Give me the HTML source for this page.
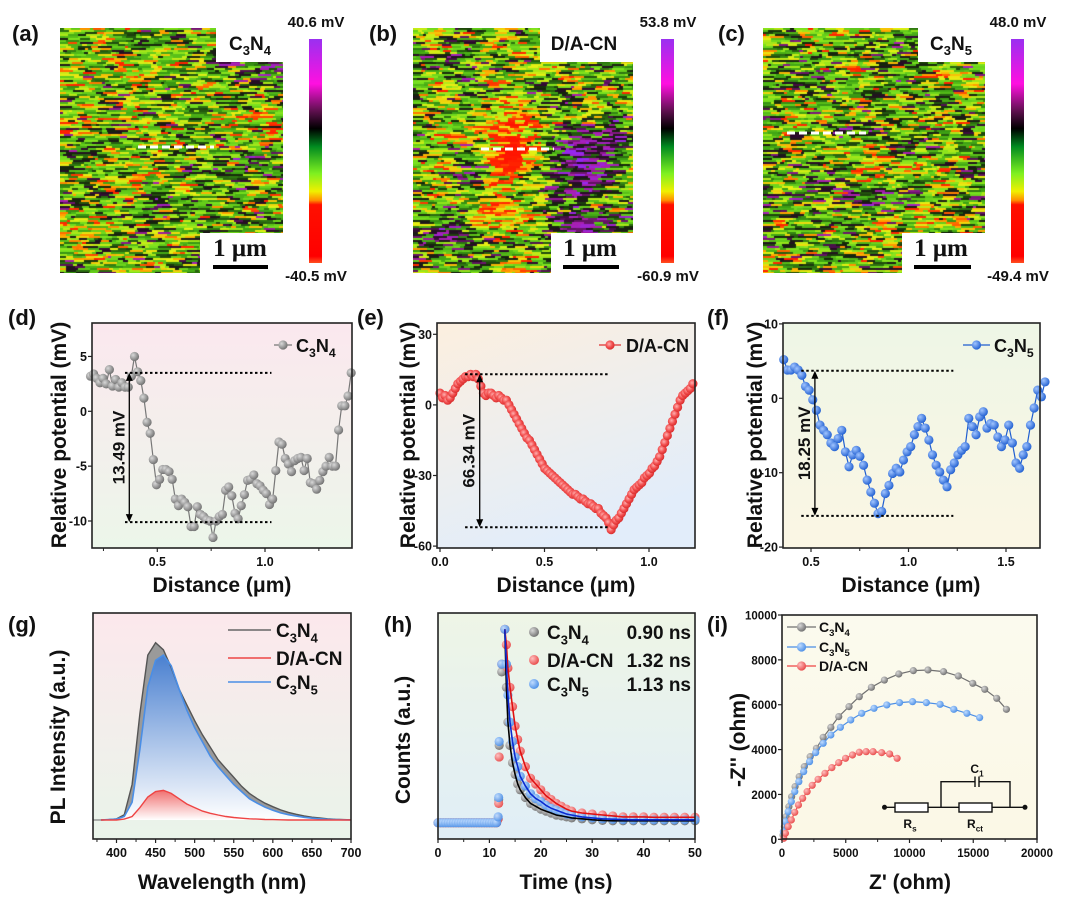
<!DOCTYPE html>
<html><head><meta charset="utf-8">
<style>
html,body{margin:0;padding:0;background:#fff;}
#wrap{position:relative;width:1072px;height:900px;overflow:hidden;font-family:"Liberation Sans",Arial,sans-serif;}
canvas{position:absolute;}
svg{position:absolute;left:0;top:0;}
text{font-family:"Liberation Sans",Arial,sans-serif;font-weight:bold;fill:#111;}
</style></head>
<body>
<div id="wrap">
<canvas id="mapA" width="223" height="245" style="left:60px;top:28px"></canvas>
<canvas id="mapB" width="220" height="245" style="left:413px;top:28px"></canvas>
<canvas id="mapC" width="222" height="245" style="left:763px;top:28px"></canvas>
<svg id="svg" width="1072" height="900" viewBox="0 0 1072 900">
<defs>
<linearGradient id="cbar" x1="0" y1="0" x2="0" y2="1">
<stop offset="0" stop-color="#9a30f0"/><stop offset="0.2" stop-color="#ff10e0"/><stop offset="0.32" stop-color="#601050"/><stop offset="0.4" stop-color="#000"/><stop offset="0.48" stop-color="#008a20"/><stop offset="0.6" stop-color="#7ef020"/><stop offset="0.68" stop-color="#f0f000"/><stop offset="0.72" stop-color="#ff9000"/><stop offset="0.74" stop-color="#ff1000"/><stop offset="0.97" stop-color="#ff0000"/><stop offset="1" stop-color="#ff5020"/>
</linearGradient>
<linearGradient id="bgD" x1="0" y1="0" x2="0" y2="1"><stop offset="0" stop-color="#fbe8ee"/><stop offset="1" stop-color="#ecf6ea"/></linearGradient>
<linearGradient id="bgE" x1="0" y1="0" x2="0.4" y2="1"><stop offset="0" stop-color="#fcefdf"/><stop offset="1" stop-color="#e2edfa"/></linearGradient>
<linearGradient id="bgF" x1="0" y1="0" x2="0" y2="1"><stop offset="0" stop-color="#eef6e6"/><stop offset="1" stop-color="#fbf6e4"/></linearGradient>
<linearGradient id="bgG" x1="0" y1="0" x2="0" y2="1"><stop offset="0" stop-color="#fce8ec"/><stop offset="1" stop-color="#e9f4ea"/></linearGradient>
<linearGradient id="bgH" x1="0" y1="0" x2="0" y2="1"><stop offset="0" stop-color="#eef5e6"/><stop offset="1" stop-color="#e0eef7"/></linearGradient>
<linearGradient id="bgI" x1="0" y1="0" x2="0" y2="1"><stop offset="0" stop-color="#fbfaee"/><stop offset="1" stop-color="#fbf8e6"/></linearGradient>
<linearGradient id="fillBlue" x1="0" y1="0" x2="0" y2="1"><stop offset="0" stop-color="#4a80d0"/><stop offset="1" stop-color="#ffffff"/></linearGradient>
<linearGradient id="fillRed" x1="0" y1="0" x2="0" y2="1"><stop offset="0" stop-color="#f07070"/><stop offset="1" stop-color="#ffffff"/></linearGradient>
<radialGradient id="ballGray" cx="0.35" cy="0.35" r="0.7"><stop offset="0" stop-color="#d8d8d8"/><stop offset="1" stop-color="#6e6e6e"/></radialGradient>
<radialGradient id="ballRed" cx="0.4" cy="0.4" r="0.7"><stop offset="0" stop-color="#ffb0b0"/><stop offset="0.5" stop-color="#f25050"/><stop offset="1" stop-color="#d02020"/></radialGradient>
<radialGradient id="ballBlue" cx="0.35" cy="0.35" r="0.7"><stop offset="0" stop-color="#a0c4ff"/><stop offset="1" stop-color="#1f5ed0"/></radialGradient>
<radialGradient id="ballLBlue" cx="0.35" cy="0.35" r="0.7"><stop offset="0" stop-color="#c0dcff"/><stop offset="1" stop-color="#4a8ee6"/></radialGradient>
<radialGradient id="ballLRed" cx="0.35" cy="0.35" r="0.7"><stop offset="0" stop-color="#ffc0c0"/><stop offset="1" stop-color="#e84848"/></radialGradient>
</defs>

<g>
<text x="12" y="41" font-size="22">(a)</text>
<rect x="216" y="27" width="68" height="35" fill="#fff"/>
<text x="250" y="50" font-size="19" text-anchor="middle">C<tspan font-size="13" dy="5">3</tspan><tspan dy="-5">N</tspan><tspan font-size="13" dy="5">4</tspan></text>
<rect x="200" y="233" width="84" height="42" fill="#fff"/>
<text x="240" y="256" font-size="25" text-anchor="middle" style="font-family:'Liberation Serif',serif">1 μm</text>
<rect x="213" y="265" width="55" height="4" fill="#000"/>
<line x1="138" y1="147" x2="214" y2="147" stroke="#fff" stroke-width="3" stroke-dasharray="8,4"/>
<rect x="309" y="39" width="13" height="224" fill="url(#cbar)"/>
<text x="316" y="27" font-size="15" text-anchor="middle">40.6 mV</text>
<text x="316" y="281" font-size="15" text-anchor="middle">-40.5 mV</text>
</g>
<g>
<text x="369" y="41" font-size="22">(b)</text>
<rect x="540" y="27" width="94" height="35" fill="#fff"/>
<text x="584" y="50" font-size="19" text-anchor="middle">D/A-CN</text>
<rect x="551" y="233" width="83" height="42" fill="#fff"/>
<text x="590" y="256" font-size="25" text-anchor="middle" style="font-family:'Liberation Serif',serif">1 μm</text>
<rect x="563" y="265" width="56" height="4" fill="#000"/>
<line x1="481" y1="149" x2="554" y2="149" stroke="#fff" stroke-width="3" stroke-dasharray="8,4"/>
<rect x="661" y="39" width="13" height="224" fill="url(#cbar)"/>
<text x="668" y="27" font-size="15" text-anchor="middle">53.8 mV</text>
<text x="668" y="281" font-size="15" text-anchor="middle">-60.9 mV</text>
</g>
<g>
<text x="718" y="41" font-size="22">(c)</text>
<rect x="918" y="27" width="68" height="35" fill="#fff"/>
<text x="951" y="50" font-size="19" text-anchor="middle">C<tspan font-size="13" dy="5">3</tspan><tspan dy="-5">N</tspan><tspan font-size="13" dy="5">5</tspan></text>
<rect x="902" y="233" width="84" height="42" fill="#fff"/>
<text x="941" y="256" font-size="25" text-anchor="middle" style="font-family:'Liberation Serif',serif">1 μm</text>
<rect x="914" y="265" width="57" height="4" fill="#000"/>
<line x1="787" y1="133" x2="866" y2="133" stroke="#fff" stroke-width="3" stroke-dasharray="8,4"/>
<rect x="1011" y="39" width="13" height="224" fill="url(#cbar)"/>
<text x="1018" y="27" font-size="15" text-anchor="middle">48.0 mV</text>
<text x="1018" y="281" font-size="15" text-anchor="middle">-49.4 mV</text>
</g>

<text x="8" y="325" font-size="22">(d)</text>
<text x="357" y="325" font-size="22">(e)</text>
<text x="707" y="325" font-size="22">(f)</text>
<text x="8" y="632" font-size="22">(g)</text>
<text x="384" y="632" font-size="22">(h)</text>
<text x="707" y="632" font-size="22">(i)</text>

<text transform="translate(66,435) rotate(-90)" font-size="21" text-anchor="middle">Relative potential (mV)</text>
<text transform="translate(415,435) rotate(-90)" font-size="21" text-anchor="middle">Relative potential (mV)</text>
<text transform="translate(762,435) rotate(-90)" font-size="21" text-anchor="middle">Relative potential (mV)</text>
<text x="222" y="592" font-size="21" text-anchor="middle">Distance (μm)</text>
<text x="566" y="592" font-size="21" text-anchor="middle">Distance (μm)</text>
<text x="911" y="592" font-size="21" text-anchor="middle">Distance (μm)</text>
<text transform="translate(65,737) rotate(-90)" font-size="21" text-anchor="middle">PL Intensity (a.u.)</text>
<text transform="translate(410,740) rotate(-90)" font-size="21" text-anchor="middle">Counts (a.u.)</text>
<text transform="translate(745,740) rotate(-90)" font-size="21" text-anchor="middle">-Z'' (ohm)</text>
<text x="222" y="889" font-size="21" text-anchor="middle">Wavelength (nm)</text>
<text x="566" y="889" font-size="21" text-anchor="middle">Time (ns)</text>
<text x="910" y="889" font-size="21" text-anchor="middle">Z' (ohm)</text>
</svg>
</div>
<script>
// ---------- data: panel d (C3N4 potential profile) ----------
const dRange = [0.19, 1.40];
const dValues = [3.2,3.4,3.0,2.6,3.0,2.5,3.8,2.3,2.9,2.2,2.6,2.2,2.2,3.2,5.0,3.6,2.8,1.2,-1.0,-2.0,-4.4,-6.7,-6.2,-5.3,-5.3,-5.5,-6.2,-8.0,-8.6,-8.0,-8.3,-8.7,-10.5,-10.5,-8.7,-9.4,-9.6,-9.9,-10.0,-11.5,-10.0,-9.6,-9.4,-7.2,-6.9,-7.7,-9.3,-9.8,-8.6,-7.6,-6.3,-6.2,-5.8,-6.6,-6.8,-7.2,-7.5,-8.5,-8.0,-5.4,-2.8,-3.0,-4.3,-4.8,-5.5,-4.5,-4.3,-4.2,-5.4,-4.3,-6.5,-6.6,-7.1,-6.3,-5.5,-5.0,-4.2,-5.0,-5.0,-1.7,0.5,0.5,1.4,3.5];
const dTicksX = [0.5, 1.0];
const dTicksY = [5, 0, -5, -10];
const dRef = [3.5, -10.1];
// ---------- panel e (D/A-CN) ----------
const eRange = [0.0, 1.21];
const eValues = [5,3,4,2,3,5,7,9,10,11,12,12,13,12,13,11,8,5,4,5,5,4,3,4,3,2,2,0,-2,-4,-6,-8,-10,-12,-14,-15,-17,-19,-21,-23,-25,-27,-28,-29,-30,-31,-32,-33,-34,-35,-36,-37,-38,-38,-39,-40,-40,-41,-42,-42,-43,-44,-44,-46,-47,-48,-50,-53,-51,-49,-48,-46,-44,-42,-40,-38,-36,-35,-34,-33,-31,-30,-29,-27,-26,-24,-22,-19,-16,-13,-10,-7,-4,-1,2,4,5,6,7,9];
const eTicksX = [0.0, 0.5, 1.0];
const eTicksY = [30, 0, -30, -60];
const eRef = [13, -52];
// ---------- panel f (C3N5) ----------
const fRange = [0.36, 1.70];
const fValues = [5.2,3.8,3.8,4.2,3.8,3.1,1.6,1.1,-0.2,-1.6,-3.6,-4.3,-4.9,-6.0,-6.5,-5.4,-4.3,-7.2,-9.2,-7.6,-7.0,-7.8,-9.0,-11.0,-12.6,-14.1,-15.5,-15.2,-12.8,-11.7,-10.1,-9.4,-9.9,-8.3,-7.2,-6.5,-4.9,-3.8,-2.7,-4.0,-5.6,-7.6,-9.0,-9.9,-11.0,-11.9,-9.6,-8.7,-7.6,-7.0,-6.5,-2.7,-3.8,-4.9,-2.5,-1.8,-4.0,-3.4,-3.6,-5.2,-6.5,-5.6,-3.6,-6.0,-8.7,-9.4,-7.6,-6.5,-3.6,-1.3,1.1,0.2,2.2];
const fTicksX = [0.5, 1.0, 1.5];
const fTicksY = [10, 0, -10, -20];
const fRef = [3.7, -15.8];
// ---------- panel g (PL spectra) ----------
const wavelengths = [380,390,400,410,420,430,440,450,460,470,480,490,500,510,520,530,540,550,560,570,580,590,600,610,620,630,640,650,660,670,680,690,700];
const plC3N4 = [0,0.002,0.006,0.03,0.2,0.6,0.93,1.0,0.96,0.86,0.74,0.65,0.56,0.48,0.41,0.34,0.29,0.24,0.19,0.15,0.12,0.095,0.075,0.057,0.043,0.032,0.023,0.016,0.011,0.007,0.004,0.002,0.001];
const plC3N5 = [0,0.002,0.005,0.02,0.1,0.4,0.75,0.9,0.93,0.87,0.74,0.62,0.52,0.44,0.36,0.30,0.25,0.20,0.16,0.12,0.095,0.072,0.055,0.04,0.03,0.022,0.015,0.01,0.007,0.004,0.002,0.001,0];
const plDACN = [0,0,0,0.005,0.02,0.07,0.13,0.16,0.167,0.15,0.12,0.09,0.07,0.05,0.038,0.028,0.02,0.014,0.01,0.007,0.005,0.003,0.002,0.001,0,0,0,0,0,0,0,0,0];
const gTicksX = [400,450,500,550,600,650,700];
// ---------- panel h (TRPL) ----------
const times = [0,0.5,1,1.5,2,2.5,3,3.5,4,4.5,5,5.5,6,6.5,7,7.5,8,8.5,9,9.5,10,10.5,11,11.4,11.7,11.8,11.9,12.4,13,13.3,13.6,14,14.5,15,15.5,16,17,18,19,20,21,22,23,24,25,26,28,30,32,34,36,38,40,42,44,46,48,50];
const trC3N4 = [0,0,0,0,0,0,0,0,0,0,0,0,0,0,0,0,0,0,0,0,0,0,0,0,0.02,0.12,0.4,0.78,1.0,0.7,0.52,0.4,0.31,0.25,0.2,0.17,0.13,0.1,0.085,0.07,0.06,0.05,0.04,0.035,0.03,0.025,0.02,0.015,0.012,0.01,0.01,0.01,0.01,0.01,0.01,0.01,0.01,0.01];
const trDACN = [0,0,0,0,0,0,0,0,0,0,0,0,0,0,0,0,0,0,0,0,0,0,0,0,0.02,0.1,0.34,0.82,1.0,0.92,0.8,0.7,0.6,0.5,0.43,0.37,0.29,0.23,0.2,0.17,0.14,0.12,0.1,0.085,0.07,0.06,0.05,0.045,0.04,0.035,0.03,0.03,0.03,0.028,0.028,0.028,0.028,0.028];
const trC3N5 = [0,0,0,0,0,0,0,0,0,0,0,0,0,0,0,0,0,0,0,0,0,0,0,0,0.03,0.13,0.42,0.82,1.0,0.82,0.66,0.52,0.42,0.34,0.29,0.24,0.19,0.15,0.125,0.11,0.09,0.075,0.065,0.055,0.045,0.04,0.03,0.025,0.02,0.018,0.016,0.015,0.015,0.015,0.015,0.015,0.015,0.015];
const hTicksX = [0,10,20,30,40,50];
const lifetimes = ["0.90 ns","1.32 ns","1.13 ns"];
// ---------- panel i (Nyquist) ----------
const zReC3N4 = [80,190,320,540,755,1025,1350,1750,2210,2700,3230,3830,4450,5255,6060,7010,8030,9160,10300,11450,12670,13830,14960,15900,16840,17600];
const zImC3N4 = [190,565,1010,1456,1900,2350,2795,3240,3685,4057,4547,4990,5470,5915,6360,6776,7100,7370,7520,7550,7475,7282,6955,6687,6286,5795];
const zReC3N5 = [110,270,485,730,1000,1320,1700,2160,2640,3230,3830,4580,5390,6250,7220,8220,9220,10240,11320,12400,13475,14500,15500];
const zImC3N5 = [340,788,1233,1680,2125,2570,3017,3462,3864,4280,4650,4993,5320,5617,5840,5990,6093,6137,6093,6018,5795,5617,5424];
const zReDACN = [135,270,485,730,1000,1290,1620,1970,2370,2830,3370,3910,4450,4985,5525,6060,6600,7140,7815,8440,9030];
const zImDACN = [45,267,565,862,1204,1530,1828,2125,2407,2675,2942,3195,3418,3611,3760,3880,3908,3908,3864,3804,3611];
const iTicksX = [0,5000,10000,15000,20000];
const iTicksY = [0,2000,4000,6000,8000,10000];

// ---------- helpers ----------
const NS = "http://www.w3.org/2000/svg";
const svg = document.getElementById("svg");
function mk(tag, attrs, parent) {
  const el = document.createElementNS(NS, tag);
  for (const k in attrs) el.setAttribute(k, attrs[k]);
  (parent || svg).appendChild(el);
  return el;
}
function lin(d0, d1, r0, r1) { return v => r0 + (v - d0) * (r1 - r0) / (d1 - d0); }
function linspace(a, b, n) { const o = []; for (let i = 0; i < n; i++) o.push(a + (b - a) * i / (n - 1)); return o; }
function fmt(v, dec) { return v.toFixed(dec); }

function frame(name, box, bg) {
  const g = mk("g", {});
  
  
  const r = mk("rect", {x: box.x0, y: box.y0, width: box.x1 - box.x0, height: box.y1 - box.y0, fill: bg}, g);
  
  
  return g;
}
function border(g, box) {
  const r = mk("rect", {x: box.x0, y: box.y0, width: box.x1 - box.x0, height: box.y1 - box.y0, fill: "none", stroke: "#222", "stroke-width": 1.6}, g);
  
  
}
function xTicks(g, box, sx, ticks, dec, fs) {
  const minor = [];
  for (let i = 0; i < ticks.length - 1; i++) minor.push((ticks[i] + ticks[i + 1]) / 2);
  const step = ticks.length > 1 ? ticks[1] - ticks[0] : 1;
  minor.push(ticks[0] - step / 2, ticks[ticks.length - 1] + step / 2);
  ticks.forEach(t => {
    const x = sx(t);
    const l = mk("line", {x1: x, x2: x, y1: box.y1, y2: box.y1 + 4, stroke: "#222", "stroke-width": 1.2}, g);
    
    
    const tx = mk("text", {x: x, y: box.y1 + 18, "font-size": fs || 12.5, "text-anchor": "middle"}, g);
    
    
    tx.textContent = fmt(t, dec);
  });
  minor.forEach(t => {
    const x = sx(t);
    if (x < box.x0 || x > box.x1) return;
    const l = mk("line", {x1: x, x2: x, y1: box.y1, y2: box.y1 + 3, stroke: "#222", "stroke-width": 1}, g);
    
    
  });
}
function yTicks(g, box, sy, ticks, dec, fs) {
  ticks.forEach(t => {
    const y = sy(t);
    const l = mk("line", {x1: box.x0, x2: box.x0 - 4, y1: y, y2: y, stroke: "#222", "stroke-width": 1.2}, g);
    
    
    const tx = mk("text", {x: box.x0 - 5, y: y + 4.5, "font-size": fs || 12.5, "text-anchor": "end"}, g);
    
    
    tx.textContent = fmt(t, dec);
  });
}
function subLabel(parent, x, y, fs, parts, anchor) {
  const t = mk("text", {x: x, y: y, "font-size": fs, "text-anchor": anchor || "start"}, parent);
  parts.forEach(p => {
    const s = mk("tspan", p[1] ? {"font-size": fs * 0.68, dy: fs * 0.28} : {dy: p[2] ? -fs * 0.28 : 0}, t);
    s.textContent = p[0];
  });
  return t;
}
function profile(name, box, sx, sy, xr, vals, color, ball, ref, arrowX, refX0, refX1, labelTxt, bg) {
  const g = frame(name, box, bg);
  const xs = linspace(xr[0], xr[1], vals.length);
  const pts = vals.map((v, i) => sx(xs[i]).toFixed(1) + "," + sy(v).toFixed(1)).join(" ");
  const pl = mk("polyline", {points: pts, fill: "none", stroke: color, "stroke-width": 1.2}, g);
  
  
  vals.forEach((v, i) => {
    const c = mk("circle", {cx: sx(xs[i]), cy: sy(v), r: 4.6, fill: ball}, g);
    
    
  });
  ref.forEach(rv => {
    const l = mk("line", {x1: sx(refX0), x2: sx(refX1), y1: sy(rv), y2: sy(rv), stroke: "#000", "stroke-width": 2, "stroke-dasharray": "2.5,2.5"}, g);
    
    
  });
  const ax = sx(arrowX), ya = sy(ref[0]), yb = sy(ref[1]);
  const al = mk("line", {x1: ax, x2: ax, y1: ya + 6, y2: yb - 6, stroke: "#000", "stroke-width": 1.3}, g);
  
  
  const h1 = mk("path", {d: `M${ax},${ya} l-3.5,8 h7 z M${ax},${yb} l-3.5,-8 h7 z`, fill: "#000"}, g);
  
  
  const lt = mk("text", {transform: `translate(${ax - 5},${(ya + yb) / 2}) rotate(-90)`, "font-size": 17, "text-anchor": "middle"}, g);
  
  
  lt.textContent = labelTxt;
  return g;
}
function legendMarker(g, x0, x1, y, color, ball) {
  const l = mk("line", {x1: x0, x2: x1, y1: y, y2: y, stroke: color, "stroke-width": 1.3}, g);
  
  
  const c = mk("circle", {cx: (x0 + x1) / 2, cy: y, r: 4.6, fill: ball}, g);
  
  
}

// ---------- panel d ----------
{
  const box = {x0: 92, x1: 352, y0: 323, y1: 548};
  const sx = lin(0.5, 1.0, 157.3, 265), sy = lin(0, -10, 411.3, 521);
  const g = profile("panel-d", box, sx, sy, dRange, dValues, "#777", "url(#ballGray)", dRef, 0.37, 0.35, 1.03, "13.49 mV", "url(#bgD)");
  xTicks(g, box, sx, dTicksX, 1); yTicks(g, box, sy, dTicksY, 0); border(g, box);
  legendMarker(g, 274, 292, 345, "#777", "url(#ballGray)");
  const t = subLabel(g, 296, 352, 18, [["C"], ["3", 1], ["N", 0, 1], ["4", 1]]);
  
  
}
// ---------- panel e ----------
{
  const box = {x0: 437, x1: 695, y0: 323, y1: 548};
  const sx = lin(0, 1, 440, 649), sy = lin(0, -30, 404.9, 475.5);
  const g = profile("panel-e", box, sx, sy, eRange, eValues, "#e03030", "url(#ballRed)", eRef, 0.19, 0.12, 0.81, "66.34 mV", "url(#bgE)");
  xTicks(g, box, sx, eTicksX, 1); yTicks(g, box, sy, eTicksY, 0); border(g, box);
  legendMarker(g, 599, 621, 345, "#e03030", "url(#ballRed)");
  const t = mk("text", {x: 626, y: 352, "font-size": 18}, g);
  
  
  t.textContent = "D/A-CN";
}
// ---------- panel f ----------
{
  const box = {x0: 783, x1: 1040, y0: 323, y1: 548};
  const sx = lin(0.5, 1.5, 811, 1006), sy = lin(0, -10, 398.3, 472.7);
  const g = profile("panel-f", box, sx, sy, fRange, fValues, "#1f5ed0", "url(#ballBlue)", fRef, 0.52, 0.45, 1.23, "18.25 mV", "url(#bgF)");
  xTicks(g, box, sx, fTicksX, 1); yTicks(g, box, sy, fTicksY, 0); border(g, box);
  legendMarker(g, 963, 990, 345, "#1f5ed0", "url(#ballBlue)");
  const t = subLabel(g, 994, 352, 18, [["C"], ["3", 1], ["N", 0, 1], ["5", 1]]);
  
  
}
// ---------- panel g ----------
{
  const box = {x0: 93, x1: 351, y0: 613, y1: 839};
  const sx = lin(400, 700, 116.5, 351), sy = lin(0, 1, 820, 642.7);
  const g = frame("panel-g", box, "url(#bgG)");
  const base = sy(0);
  function path(vals, close) {
    let d = wavelengths.map((w, i) => (i ? "L" : "M") + sx(w).toFixed(1) + "," + sy(vals[i]).toFixed(1)).join(" ");
    if (close) d += ` L${sx(700)},${base} L${sx(380)},${base} Z`;
    return d;
  }
  const a1 = mk("path", {d: path(plC3N4, true), fill: "#9a9a9a"}, g);
  
  
  const a2 = mk("path", {d: path(plC3N5, true), fill: "url(#fillBlue)"}, g);
  
  
  const a3 = mk("path", {d: path(plDACN, true), fill: "url(#fillRed)"}, g);
  
  
  const bl = mk("line", {x1: box.x0, x2: sx(380), y1: base, y2: base, stroke: "#888", "stroke-width": 1.3}, g);
  
  
  const l1 = mk("path", {d: path(plC3N4), fill: "none", stroke: "#555", "stroke-width": 1.4}, g);
  
  
  const l2 = mk("path", {d: path(plC3N5), fill: "none", stroke: "#4a8ee6", "stroke-width": 1.6}, g);
  
  
  const l3 = mk("path", {d: path(plDACN), fill: "none", stroke: "#ee4444", "stroke-width": 1.4}, g);
  
  
  xTicks(g, box, sx, gTicksX, 0); border(g, box);
  const cols = ["#666", "#ee4444", "#4a8ee6"];
  const ys = [630, 658, 682];
  ys.forEach((y, i) => {
    const l = mk("line", {x1: 228, x2: 271, y1: y, y2: y, stroke: cols[i], "stroke-width": 1.6}, g);
    
    
  });
  const t1 = subLabel(g, 276, 637, 19, [["C"], ["3", 1], ["N", 0, 1], ["4", 1]]);
  
  
  const t2 = mk("text", {x: 276, y: 665, "font-size": 19}, g);
  
  
  t2.textContent = "D/A-CN";
  const t3 = subLabel(g, 276, 689, 19, [["C"], ["3", 1], ["N", 0, 1], ["5", 1]]);
  
  
}
// ---------- panel h ----------
{
  const box = {x0: 438, x1: 695, y0: 613, y1: 839};
  const sx = lin(0, 50, 438, 695), sy = lin(0, 1, 822.7, 629.3);
  const g = frame("panel-h", box, "url(#bgH)");
  const series = [[trC3N4, "url(#ballGray)"], [trDACN, "url(#ballLRed)"], [trC3N5, "url(#ballLBlue)"]];
  series.forEach(s => {
    s[0].forEach((v, i) => {
      const c = mk("circle", {cx: sx(times[i]), cy: sy(v), r: 4.6, fill: s[1], opacity: 0.95}, g);
      
      
    });
  });
  const fits = [[trC3N4, "#000"], [trDACN, "#e01010"], [trC3N5, "#0a2ad0"]];
  fits.forEach(f => {
    const pts = [];
    f[0].forEach((v, i) => { if (times[i] >= 13) pts.push(sx(times[i]).toFixed(1) + "," + sy(v).toFixed(1)); });
    const pl = mk("polyline", {points: pts.join(" "), fill: "none", stroke: f[1], "stroke-width": 1.6}, g);
    
    
  });
  xTicks(g, box, sx, hTicksX, 0); border(g, box);
  const balls = ["url(#ballGray)", "url(#ballLRed)", "url(#ballLBlue)"];
  const ys = [632, 660, 684];
  ys.forEach((y, i) => {
    const c = mk("circle", {cx: 534, cy: y, r: 5, fill: balls[i]}, g);
    
    
    const v = mk("text", {x: 691, y: y + 7, "font-size": 19, "text-anchor": "end"}, g);
    
    
    v.textContent = lifetimes[i];
  });
  const t1 = subLabel(g, 547, 639, 19, [["C"], ["3", 1], ["N", 0, 1], ["4", 1]]);
  
  
  const t2 = mk("text", {x: 547, y: 667, "font-size": 19}, g);
  
  
  t2.textContent = "D/A-CN";
  const t3 = subLabel(g, 547, 691, 19, [["C"], ["3", 1], ["N", 0, 1], ["5", 1]]);
  
  
}
// ---------- panel i ----------
{
  const box = {x0: 782, x1: 1037, y0: 615, y1: 839};
  const sx = lin(0, 20000, 782, 1037), sy = lin(0, 10000, 839.3, 615);
  const g = frame("panel-i", box, "url(#bgI)");
  const series = [[zReC3N4, zImC3N4, "#707070", "url(#ballGray)"], [zReC3N5, zImC3N5, "#4a8ee6", "url(#ballLBlue)"], [zReDACN, zImDACN, "#ee4444", "url(#ballLRed)"]];
  series.forEach(s => {
    const pts = s[0].map((x, i) => sx(x).toFixed(1) + "," + sy(s[1][i]).toFixed(1)).join(" ");
    const pl = mk("polyline", {points: pts, fill: "none", stroke: s[2], "stroke-width": 1.2}, g);
    
    
    s[0].forEach((x, i) => {
      const c = mk("circle", {cx: sx(x), cy: sy(s[1][i]), r: 3.6, fill: s[3]}, g);
      
      
    });
  });
  xTicks(g, box, sx, iTicksX, 0, 11.5); yTicks(g, box, sy, iTicksY, 0, 11.5); border(g, box);
  const ly = [627, 647, 666];
  legendMarker(g, 787, 816, ly[0], "#707070", "url(#ballGray)");
  legendMarker(g, 787, 816, ly[1], "#4a8ee6", "url(#ballLBlue)");
  legendMarker(g, 787, 816, ly[2], "#ee4444", "url(#ballLRed)");
  const t1 = subLabel(g, 819, 632, 14, [["C"], ["3", 1], ["N", 0, 1], ["4", 1]]);
  
  
  const t3 = subLabel(g, 819, 652, 14, [["C"], ["3", 1], ["N", 0, 1], ["5", 1]]);
  
  
  const t2 = mk("text", {x: 819, y: 671, "font-size": 14}, g);
  
  
  t2.textContent = "D/A-CN";
  const cg = mk("g", {stroke: "#111", "stroke-width": 1.4, fill: "none"}, g);
  
  
  mk("path", {d: "M884.5,807.3 H895 M928,807.3 H959 M992,807.3 H1025 M941,807.3 V781.7 H975 M979,781.7 H1010 V807.3"}, cg);
  mk("rect", {x: 895, y: 803, width: 33, height: 9, fill: "#fff"}, cg);
  mk("rect", {x: 959, y: 803, width: 33, height: 9, fill: "#fff"}, cg);
  mk("path", {d: "M975,776.5 V787 M979,776.5 V787"}, cg);
  mk("circle", {cx: 884.5, cy: 807.3, r: 1.8, fill: "#111"}, cg);
  mk("circle", {cx: 1025, cy: 807.3, r: 1.8, fill: "#111"}, cg);
  const c1 = subLabel(g, 977, 773, 12, [["C"], ["1", 1]], "middle");
  
  
  const rs = subLabel(g, 910, 828, 12, [["R"], ["s", 1]], "middle");
  
  
  const rct = subLabel(g, 975, 828, 12, [["R"], ["ct", 1]], "middle");
  
  
}

// ---------- KPFM texture maps (decorative images) ----------
function rng(seed) { let s = seed; return () => { s = (s * 1664525 + 1013904223) >>> 0; return s / 4294967296; }; }
function cmap(v) {
  const stops = [[0, [255, 20, 0]], [0.2, [255, 40, 0]], [0.3, [255, 170, 0]], [0.36, [230, 240, 20]], [0.45, [120, 225, 30]], [0.55, [60, 160, 20]], [0.63, [20, 40, 10]], [0.72, [40, 10, 40]], [0.82, [170, 30, 170]], [1, [150, 40, 240]]];
  v = Math.max(0, Math.min(1, v));
  for (let i = 1; i < stops.length; i++) {
    if (v <= stops[i][0]) {
      const a = stops[i - 1], b = stops[i], t = (v - a[0]) / (b[0] - a[0]);
      return a[1].map((c, k) => Math.round(c + (b[1][k] - c) * t));
    }
  }
  return stops[stops.length - 1][1];
}
function drawMap(id, seed, blobs) {
  const cv = document.getElementById(id), ctx = cv.getContext("2d");
  const W = cv.width, H = cv.height, r = rng(seed);
  const gw = 10, gh = 14, grid = [];
  for (let i = 0; i <= gh; i++) { grid.push([]); for (let j = 0; j <= gw; j++) grid[i].push(r() - 0.5); }
  function coarse(x, y) {
    const fx = x / W * gw, fy = y / H * gh, i = Math.floor(fy), j = Math.floor(fx), tx = fx - j, ty = fy - i;
    const a = grid[i][j], b = grid[i][Math.min(j + 1, gw)], c = grid[Math.min(i + 1, gh)][j], d = grid[Math.min(i + 1, gh)][Math.min(j + 1, gw)];
    return (a * (1 - tx) + b * tx) * (1 - ty) + (c * (1 - tx) + d * tx) * ty;
  }
  for (let y = 0; y < H; y += 2) {
    let x = 0;
    while (x < W) {
      const len = 3 + Math.floor(r() * 12);
      let v = 0.5 + coarse(x, y) * 0.28 + (r() + r() + r() - 1.5) * 0.27;
      blobs.forEach(b => {
        const dx = (x - b[0]) / b[2], dy = (y - b[1]) / b[3];
        v += b[4] * Math.exp(-(dx * dx + dy * dy));
      });
      const c = cmap(v);
      ctx.fillStyle = `rgb(${c[0]},${c[1]},${c[2]})`;
      ctx.fillRect(x, y, len, 2);
      x += len;
    }
  }
}
drawMap("mapA", 11, []);
drawMap("mapB", 23, [[95, 120, 25, 30, -0.45], [170, 135, 30, 40, 0.33], [75, 185, 35, 18, -0.3], [40, 195, 25, 30, 0.2], [160, 205, 20, 20, 0.2]]);
drawMap("mapC", 37, []);
</script>
</body></html>
